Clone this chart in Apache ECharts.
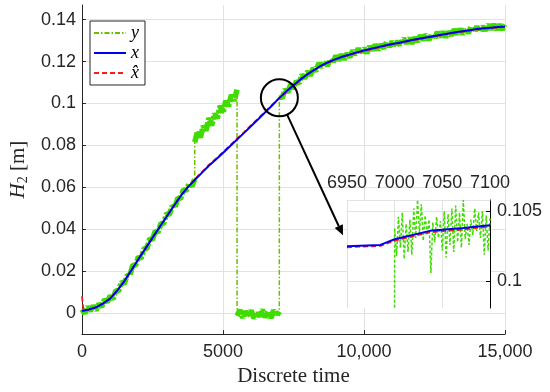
<!DOCTYPE html>
<html><head><meta charset="utf-8">
<script src="https://cdn.jsdelivr.net/npm/echarts@6/dist/echarts.min.js"></script>
<style>html,body{margin:0;padding:0;background:#fff}#c{width:550px;height:392px}</style>
</head><body><div id="c"></div>
<script>
// ---------- data ----------
const xTicks = [0, 5000, 10000, 15000];
const yTicks = [0, 0.02, 0.04, 0.06, 0.08, 0.1, 0.12, 0.14];
const insetXTicks = [6950, 7000, 7050, 7100];
const insetYTicks = [0.1, 0.105];
const seriesNames = ['y', 'x', 'x\u0302'];

// true state x
const tX = [0,250,500,750,1000,1250,1500,1750,2000,2250,2500,2750,3000,3250,3500,3750,4000,4250,4500,4750,
  5000,5250,5500,5750,6000,6250,6500,6750,7000,7250,7500,7750,8000,8250,8500,8750,9000,9250,9500,9750,
  10000,10250,10500,10750,11000,11250,11500,11750,12000,12250,12500,12750,13000,13250,13500,13750,14000,14250,14500,14750,15000];
const vX = [.0010,.0017,.0028,.0046,.0069,.0107,.0152,.0204,.0257,.0308,.0359,.0410,.0460,.0510,.0559,.0600,.0635,.0669,.0703,.0733,
  .0764,.0796,.0828,.0860,.0893,.0925,.0958,.0992,.1027,.1058,.1087,.1115,.1140,.1162,.1182,.1198,.1212,.1224,.1234,.1244,
  .1253,.1261,.1269,.1277,.1284,.1290,.1297,.1304,.1310,.1316,.1322,.1328,.1334,.1340,.1345,.1350,.1355,.1359,.1362,.1365,.1368];

// estimate x-hat
const tXhat = [0,60,250,500,750,1000,1250,1500,1750,2000,2250,2500,2750,3000,3250,3500,3750,4000,4250,4500,4750,
  5000,5250,5500,5750,6000,6250,6500,6750,7000,7250,7500,7750,8000,8250,8500,8750,9000,9250,9500,9750,
  10000,10250,10500,10750,11000,11250,11500,11750,12000,12250,12500,12750,13000,13250,13500,13750,14000,14250,14500,14750,15000];
const vXhat = [.0080,.0012,.0017,.0028,.0046,.0069,.0107,.0152,.0204,.0257,.0308,.0359,.0410,.0460,.0510,.0559,.0601,.0639,.0673,.0707,.0737,
  .0768,.0800,.0832,.0864,.0897,.0929,.0962,.0995,.1025,.1056,.1085,.1113,.1138,.1160,.1180,.1196,.1210,.1222,.1232,.1242,
  .1251,.1259,.1267,.1275,.1282,.1288,.1295,.1302,.1308,.1314,.1320,.1326,.1332,.1338,.1343,.1348,.1353,.1357,.1360,.1363,.1366];

// measurement y
const tY = [0,100,200,300,400,500,600,700,800,900,1000,1100,1200,1300,1400,1500,1600,1700,1800,1900,
  2000,2100,2200,2300,2400,2500,2600,2700,2800,2900,3000,3100,3200,3300,3400,3500,3600,3700,3800,3900,
  3999,
  4000,4100,4200,4300,4400,4500,4600,4700,4800,4900,5000,5100,5200,5300,5400,
  5499,
  5500,5600,5700,5800,5900,6000,6100,6200,6300,6400,6500,6600,6700,6800,6900,
  6999,
  7000,7100,7200,7300,7400,7500,7600,7700,7800,7900,8000,8100,8200,8300,8400,8500,8600,8700,8800,8900,
  9000,9100,9200,9300,9400,9500,9600,9700,9800,9900,10000,10100,10200,10300,10400,10500,10600,10700,10800,10900,
  11000,11100,11200,11300,11400,11500,11600,11700,11800,11900,12000,12100,12200,12300,12400,12500,12600,12700,12800,12900,
  13000,13100,13200,13300,13400,13500,13600,13700,13800,13900,14000,14100,14200,14300,14400,14500,14600,14700,14800,14900,
  15000];
const vY = [.0018,-.0002,.0031,.0010,.0035,.0013,.0045,.0030,.0065,.0052,.0082,.0067,.0108,.0105,.0150,.0139,.0180,.0179,.0229,.0228,
  .0269,.0261,.0308,.0307,.0355,.0350,.0392,.0385,.0428,.0428,.0475,.0470,.0511,.0504,.0549,.0546,.0590,.0584,.0619,.0606,
  .0639,
  .0815,.0868,.0838,.0893,.0871,.0931,.0895,.0952,.0929,.0989,.0953,.1013,.0987,.1041,.1013,
  .1066,
  -.0012,.0015,-.0022,.0009,-.0018,.0013,-.0025,.0006,-.0016,.0017,-.0020,.0010,-.0023,.0014,-.0014,
  .0008,
  .1037,.1026,.1068,.1053,.1091,.1070,.1107,.1096,.1138,.1120,.1154,.1133,.1169,.1155,.1192,.1173,.1202,.1180,.1211,.1194,
  .1228,.1206,.1234,.1210,.1239,.1221,.1253,.1232,.1263,.1237,.1264,.1240,.1273,.1254,.1281,.1255,.1282,.1263,.1294,.1271,
  .1296,.1271,.1298,.1279,.1311,.1286,.1313,.1286,.1315,.1295,.1325,.1303,.1329,.1302,.1331,.1309,.1341,.1317,.1342,.1316,
  .1343,.1325,.1354,.1330,.1356,.1331,.1357,.1336,.1367,.1343,.1367,.1342,.1369,.1348,.1377,.1353,.1378,.1352,.1376,.1353,
  .1376];

// inset (zoom 6950..7100)
const tXin = [6950,6985,7000,7037,7072,7100];
const vXin = [.1025,.1026,.1030,.1036,.1038,.1040];
const tXhatIn = [6950,6985,7000,7037,7072,7100];
const vXhatIn = [.10243,.10253,.1029,.1035,.1037,.1039];
const tYin = [6998,7000,7002,7004,7006,7008,7010,7012,7014,7016,7018,7020,7022,7024,7026,7028,7030,7032,7034,7036,7038,
  7040,7042,7044,7046,7048,7050,7052,7054,7056,7058,7060,7062,7064,7066,7068,7070,7072,7074,7076,7078,7080,
  7082,7084,7086,7088,7090,7092,7094,7096,7098,7100];
const vYin = [.0008,.1038,.1018,.1046,.1024,.1049,.1016,.1041,.1021,.1044,.1019,.1052,.1031,.1058,.1034,.1055,.1029,.1047,.1033,.1044,.1006,
  .1042,.1028,.1046,.1031,.1043,.1022,.1050,.1017,.1048,.1026,.1052,.1021,.1054,.1028,.1049,.1024,.1058,.1030,.1041,.1026,.1044,
  .1033,.1052,.1036,.1049,.1031,.1050,.1019,.1047,.1022,.1045];

// ---------- chart ----------
const pairs = (t, v) => t.slice(0, Math.min(t.length, v.length)).map((x, i) => [x, v[i]]);
// same measurement data, with a break at every jump (for the dense noise band)
const bandPairs = (t, v) => {
  const out = [];
  for (let i = 0; i < Math.min(t.length, v.length); i++) {
    if (i > 0 && Math.abs(v[i] - v[i - 1]) > 0.01) out.push([(t[i] + t[i - 1]) / 2, '-']);
    out.push([t[i], v[i]]);
  }
  return out;
};
const axisColor = '#262626';
const gridColor = '#e2e2e2';
const sans = '"Liberation Sans", Arial, Helvetica, sans-serif';
const serif = '"Liberation Serif", "Times New Roman", serif';
const cGreen = '#3fdc00', cGreenDk = '#6cbf00', cBlue = '#0000f0', cRed = '#ff1a1a';
const fmtNum = v => parseFloat(v.toFixed(4)).toString();
const fmtX = v => v >= 10000 ? String(v).replace(/\B(?=(\d{3})+(?!\d))/g, ',') : String(v);

const chart = echarts.init(document.getElementById('c'));
const option = {
  animation: false,
  backgroundColor: '#fff',
  grid: [
    {left: 77, right: 45, top: 5, bottom: 57},
    {left: 347, top: 200, width: 143, height: 108, show: true, backgroundColor: '#fff', borderWidth: 0, z: 1}
  ],
  legend: {
    data: seriesNames, orient: 'vertical', left: 90, top: 21,
    itemWidth: 32, itemHeight: 12, itemGap: 2, padding: [3, 6, 3, 3],
    borderColor: axisColor, borderWidth: 1, backgroundColor: '#fff', z: 20,
    itemStyle: {opacity: 0},
    textStyle: {fontFamily: serif, fontStyle: 'italic', fontSize: 18, lineHeight: 18, color: '#000'}
  },
  xAxis: [
    {type: 'value', gridIndex: 0, min: xTicks[0], max: xTicks[xTicks.length - 1], interval: 5000,
     axisLine: {show: true, onZero: false, lineStyle: {color: axisColor}},
     axisTick: {show: true, inside: true, length: 4, lineStyle: {color: axisColor}},
     axisLabel: {color: axisColor, fontFamily: sans, fontSize: 18, margin: 9, formatter: fmtX, showMinLabel: true, showMaxLabel: true},
     splitLine: {show: true, lineStyle: {color: gridColor}},
     name: 'Discrete time', nameLocation: 'middle', nameGap: 31,
     nameTextStyle: {fontFamily: serif, fontSize: 21, color: axisColor}},
    {type: 'value', gridIndex: 1, position: 'top', min: insetXTicks[0], max: insetXTicks[insetXTicks.length - 1], interval: 50, z: 2,
     axisLine: {show: true, onZero: false, lineStyle: {color: gridColor}},
     axisTick: {show: false},
     axisLabel: {color: axisColor, fontFamily: sans, fontSize: 18, margin: 8, showMinLabel: true, showMaxLabel: true, formatter: v => String(v)},
     splitLine: {show: true, lineStyle: {color: gridColor}}}
  ],
  yAxis: [
    {type: 'value', gridIndex: 0, min: -0.01, max: 0.147,
     axisLine: {show: true, onZero: false, lineStyle: {color: axisColor}},
     axisTick: {show: true, inside: true, length: 4, lineStyle: {color: axisColor}, customValues: yTicks},
     axisLabel: {color: axisColor, fontFamily: sans, fontSize: 18, margin: 6, formatter: fmtNum, customValues: yTicks},
     splitLine: {show: true, lineStyle: {color: gridColor}},
     name: '{i|H}{s|2}{r| [m]}', nameLocation: 'middle', nameGap: 50,
     nameTextStyle: {color: axisColor, rich: {
       i: {fontFamily: serif, fontStyle: 'italic', fontSize: 21, color: axisColor},
       s: {fontFamily: serif, fontSize: 14, color: axisColor, padding: [9, 0, 0, 0]},
       r: {fontFamily: serif, fontSize: 21, color: axisColor}}}},
    {type: 'value', gridIndex: 1, position: 'right', min: 0.0981, max: 0.1058, z: 2,
     axisLine: {show: true, onZero: false, lineStyle: {color: '#000'}},
     axisTick: {show: true, inside: true, length: 4, lineStyle: {color: '#000'}, customValues: insetYTicks},
     axisLabel: {color: axisColor, fontFamily: sans, fontSize: 18, margin: 7, formatter: fmtNum, customValues: insetYTicks},
     splitLine: {show: true, lineStyle: {color: gridColor}}}
  ],
  series: [
    {name: seriesNames[0], type: 'line', xAxisIndex: 0, yAxisIndex: 0, data: pairs(tY, vY), showSymbol: false, symbol: 'none', z: 1,
     lineStyle: {color: cGreenDk, width: 1.5, type: [5, 2, 1.5, 2]}, itemStyle: {color: cGreenDk}},
    {name: 'y_band', type: 'line', xAxisIndex: 0, yAxisIndex: 0, data: bandPairs(tY, vY), connectNulls: false,
     showSymbol: false, symbol: 'none', z: 2, silent: true,
     lineStyle: {color: cGreen, width: 5.5, type: [10, 2, 3, 2]}},
    {name: seriesNames[2], type: 'line', xAxisIndex: 0, yAxisIndex: 0, data: pairs(tXhat, vXhat), showSymbol: false, symbol: 'none', z: 3,
     lineStyle: {color: cRed, width: 1.8, type: [5, 3]}, itemStyle: {color: cRed}},
    {name: seriesNames[1], type: 'line', xAxisIndex: 0, yAxisIndex: 0, data: pairs(tX, vX), showSymbol: false, symbol: 'none', z: 4,
     lineStyle: {color: cBlue, width: 2}, itemStyle: {color: cBlue}},
    {name: 'y_in', type: 'line', xAxisIndex: 1, yAxisIndex: 1, data: pairs(tYin, vYin), showSymbol: false, symbol: 'none', z: 5,
     lineStyle: {color: cGreen, width: 1.5, type: [3, 2]}},
    {name: 'xhat_in', type: 'line', xAxisIndex: 1, yAxisIndex: 1, data: pairs(tXhatIn, vXhatIn), showSymbol: false, symbol: 'none', z: 6,
     lineStyle: {color: cRed, width: 1.8, type: [5, 3]}},
    {name: 'x_in', type: 'line', xAxisIndex: 1, yAxisIndex: 1, data: pairs(tXin, vXin), showSymbol: false, symbol: 'none', z: 7,
     lineStyle: {color: cBlue, width: 2}}
  ]
};
chart.setOption(option);

// zoom circle and arrow, anchored to data coordinates
const c = chart.convertToPixel({gridIndex: 0}, [7000, 0.1027]);
const e = chart.convertToPixel({gridIndex: 1}, [6950, 0.1025]);
const tip = [e[0] - 4, e[1] - 11];
const dx = tip[0] - c[0], dy = tip[1] - c[1], L = Math.hypot(dx, dy);
const ux = dx / L, uy = dy / L, r = 18.5;
const start = [c[0] + ux * r, c[1] + uy * r];
const hl = 10, hw = 4.5;
const base = [tip[0] - ux * hl, tip[1] - uy * hl];
chart.setOption({
  graphic: [
    {type: 'circle', shape: {cx: c[0], cy: c[1], r: r}, style: {fill: 'none', stroke: '#000', lineWidth: 2}, z: 30},
    {type: 'line', shape: {x1: start[0], y1: start[1], x2: base[0], y2: base[1]}, style: {stroke: '#000', lineWidth: 2}, z: 30},
    {type: 'polygon', shape: {points: [tip, [base[0] - uy * hw, base[1] + ux * hw], [base[0] + uy * hw, base[1] - ux * hw]]},
     style: {fill: '#000'}, z: 30}
  ]
});
</script>
</body></html>
